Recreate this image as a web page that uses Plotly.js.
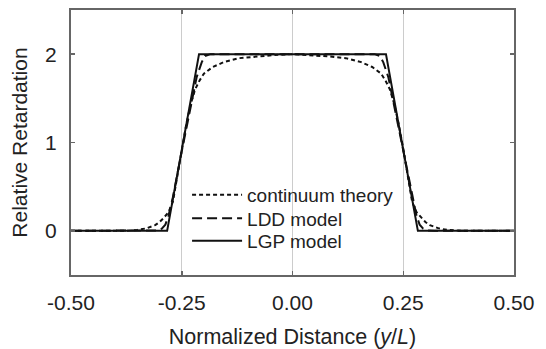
<!DOCTYPE html>
<html>
<head>
<meta charset="utf-8">
<script src="https://cdn.plot.ly/plotly-3.0.1.min.js"></script>
<style>html,body{margin:0;padding:0;background:#fff;}#chart{width:546px;height:349px;}</style>
</head>
<body>
<div id="chart"></div>
<script>
// Series
var continuumX = [-0.5, -0.38, -0.35, -0.33, -0.31, -0.30, -0.29, -0.28, -0.27, -0.26, -0.25, -0.24, -0.23, -0.22, -0.21, -0.20, -0.18, -0.155, -0.12, -0.08, -0.04, 0,
                  0.04, 0.08, 0.12, 0.155, 0.18, 0.20, 0.21, 0.22, 0.23, 0.24, 0.25, 0.26, 0.27, 0.28, 0.29, 0.30, 0.31, 0.33, 0.35, 0.38, 0.5];
var continuumY = [0, 0, 0.01, 0.028, 0.065, 0.10, 0.15, 0.21, 0.33, 0.62, 0.93, 1.20, 1.43, 1.60, 1.70, 1.78, 1.855, 1.91, 1.955, 1.975, 1.99, 2.0,
                  1.99, 1.975, 1.955, 1.91, 1.855, 1.78, 1.70, 1.60, 1.43, 1.20, 0.93, 0.62, 0.33, 0.21, 0.15, 0.10, 0.065, 0.028, 0.01, 0, 0];

var lddX = [-0.5, -0.32, -0.305, -0.295, -0.287, -0.28, -0.27, -0.25, -0.23, -0.2163, -0.205, -0.1975, -0.185, -0.17, 0,
            0.17, 0.185, 0.1975, 0.205, 0.2163, 0.23, 0.25, 0.27, 0.28, 0.287, 0.295, 0.305, 0.32, 0.5];
var lddY = [0, 0, 0.005, 0.025, 0.07, 0.17, 0.38, 0.90, 1.40, 1.74, 1.907, 1.98, 2.0, 2.0, 2.0,
            2.0, 2.0, 1.98, 1.907, 1.74, 1.40, 0.90, 0.38, 0.17, 0.07, 0.025, 0.005, 0, 0];

var lgpX = [-0.5, -0.283, -0.211, 0.211, 0.283, 0.5];
var lgpY = [0, 0, 2, 2, 0, 0];

var seriesNames = ['continuum theory', 'LDD model', 'LGP model'];
var xTickVals = [-0.5, -0.25, 0, 0.25, 0.5];
var xTickText = ['-0.50', '-0.25', '0.00', '0.25', '0.50'];
var yTickVals = [0, 1, 2];
var yTickText = ['0', '1', '2'];

var FONT = 'Liberation Sans, Arial, sans-serif';
var TXT = '#222';
var LINE = '#111';

var traces = [
  {x: continuumX, y: continuumY, mode: 'lines', name: seriesNames[0], legend: 'legend',
   line: {color: LINE, width: 2, dash: '4px,3px'}},
  {x: lddX, y: lddY, mode: 'lines', name: seriesNames[1], legend: 'legend2',
   line: {color: LINE, width: 2, dash: '10px,5px'}},
  {x: lgpX, y: lgpY, mode: 'lines', name: seriesNames[2], legend: 'legend3',
   line: {color: LINE, width: 2}}
];

function leg(y) {
  return {x: 0.262, y: y, xanchor: 'left', yanchor: 'middle', bgcolor: 'rgba(255,255,255,0)',
          borderwidth: 0, font: {family: FONT, size: 19, color: TXT}, itemwidth: 50};
}

var layout = {
  width: 546, height: 349,
  margin: {l: 71, r: 32, t: 10, b: 74},
  paper_bgcolor: '#fff', plot_bgcolor: '#fff',
  font: {family: FONT, color: TXT},
  showlegend: true,
  legend: leg(0.302),
  legend2: leg(0.214),
  legend3: leg(0.129),
  // white panel behind the legend, hiding the centre gridline there
  shapes: [{type: 'rect', layer: 'between', xref: 'paper', yref: 'paper',
            x0: 0.262, x1: 0.74, y0: 0, y1: 0.35, fillcolor: '#fff', line: {width: 0}}],
  xaxis: {
    range: [-0.5, 0.5], tickvals: xTickVals, ticktext: xTickText,
    showgrid: true, gridcolor: '#cccccc', gridwidth: 1, zeroline: false,
    showline: true, linecolor: '#666', linewidth: 2, mirror: 'allticks',
    ticks: 'inside', ticklen: 4, tickcolor: '#666', tickwidth: 1.5,
    tickfont: {family: FONT, size: 21, color: TXT},
    ticklabelstandoff: 8,
    title: {text: 'Normalized Distance (<i>y</i>/<i>L</i>)', font: {family: FONT, size: 21.5, color: TXT}, standoff: 16}
  },
  yaxis: {
    range: [-0.5, 2.5], tickvals: yTickVals, ticktext: yTickText,
    showgrid: false, zeroline: false,
    showline: true, linecolor: '#666', linewidth: 2, mirror: 'allticks',
    ticks: 'inside', ticklen: 4, tickcolor: '#666', tickwidth: 1.5,
    tickfont: {family: FONT, size: 21, color: TXT},
    ticklabelstandoff: 8,
    title: {text: 'Relative Retardation', font: {family: FONT, size: 21, color: TXT}, standoff: 12}
  }
};

Plotly.newPlot('chart', traces, layout, {staticPlot: true, displayModeBar: false});
</script>
</body>
</html>
